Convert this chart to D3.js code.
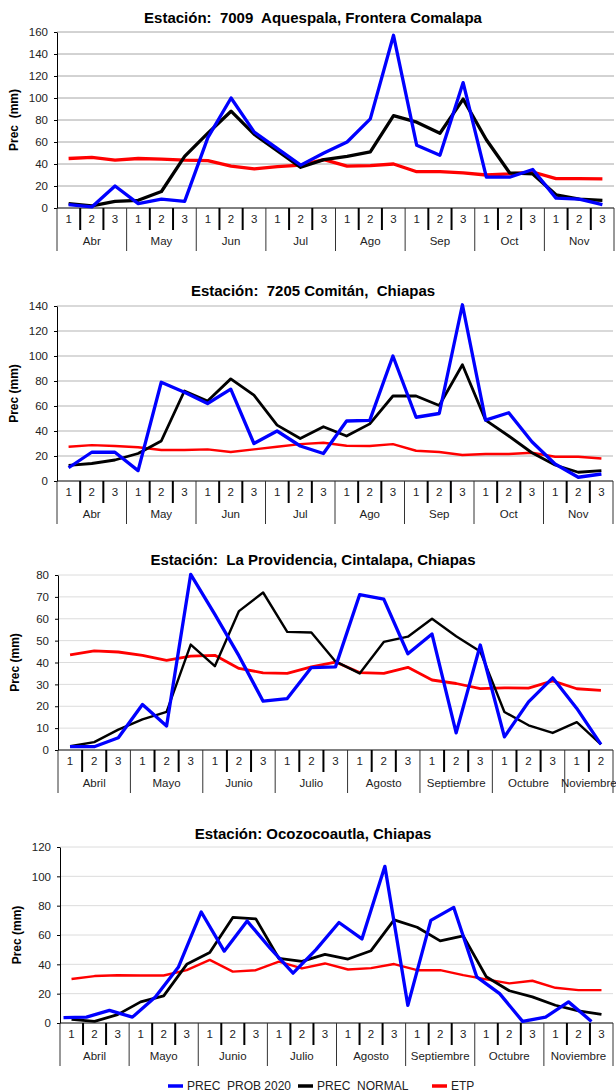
<!DOCTYPE html>
<html>
<head>
<meta charset="utf-8">
<script src="https://cdn.jsdelivr.net/npm/d3@7"></script>
<style>
  body { margin: 0; background: #fff; }
  svg { display: block; font-family: "Liberation Sans", Arial, sans-serif; }
  .title { font-weight: bold; font-size: 15px; white-space: pre; }
  .ylab { font-weight: bold; font-size: 12px; white-space: pre; }
  .tick text, .cat { font-size: 11.5px; fill: #222; }
  .legend text { font-size: 12px; fill: #222; white-space: pre; }
</style>
</head>
<body>
<svg id="chart" width="616" height="1092"></svg>
<script>
  const decades = ['1', '2', '3'];
  const monthsShort = ['Abr', 'May', 'Jun', 'Jul', 'Ago', 'Sep', 'Oct', 'Nov'];
  const monthsLong = ['Abril', 'Mayo', 'Junio', 'Julio', 'Agosto', 'Septiembre', 'Octubre', 'Noviembre'];
  const seriesNames = ['PREC  PROB 2020', 'PREC  NORMAL', 'ETP'];
  const seriesColors = ['#0000ff', '#000000', '#ff0000'];

  // 7009 Aquespala
  const aqProb = [3, 1, 20, 4, 8, 6, 64, 100, 69, 54, 39, 50, 60, 81, 157, 57, 48, 114, 28, 28, 35, 9, 8, 3];
  const aqNormal = [4, 2, 6, 7, 15, 47, 68, 88, 67, 52, 37, 44, 47, 51, 84, 78, 68, 99, 62, 32, 31, 12, 8, 7];
  const aqEtp = [45, 46, 43.5, 45, 44.5, 43.5, 43, 38, 35.5, 37.7, 39, 44, 38, 38.5, 40, 33, 33, 32, 30, 31, 32.7, 26.7, 26.7, 26.4];

  // 7205 Comitan
  const coProb = [10.6, 23, 23, 8.3, 79, 71, 62, 73.5, 30, 40, 28, 22, 48, 48.5, 100, 51, 54, 141, 48.7, 54.6, 31.4, 13.6, 3, 5.6];
  const coNormal = [12.5, 14, 16.8, 22, 32, 72, 64, 81.7, 68.7, 44.7, 34, 43.4, 36, 45.7, 68, 68, 60.4, 93, 48.7, 36, 22.6, 12.8, 7, 8.3];
  const coEtp = [27.4, 28.7, 28, 27, 24.8, 24.8, 25.3, 23.2, 25.3, 27.4, 29.5, 30.6, 28.2, 28, 29.5, 24.2, 23.2, 20.8, 21.6, 21.6, 22.6, 19.4, 19.4, 18];

  // La Providencia (hasta Nov 2)
  const prProb = [1.5, 1.5, 5.6, 20.8, 11, 80.3, 62, 43, 22.3, 23.5, 37.7, 38, 71, 69, 44, 53, 7.8, 48, 6, 22, 33, 19, 2.6];
  const prNormal = [1.7, 3.6, 9.3, 14, 17.4, 48.2, 38.3, 63.5, 72, 54, 53.7, 40.5, 35, 49.4, 51.8, 60, 52, 45, 17.4, 11.3, 7.8, 12.7, 2.6];
  const prEtp = [43.5, 45.3, 44.8, 43.3, 41, 42.9, 43.3, 37.3, 35.3, 35, 38, 40.2, 35.4, 35, 37.8, 32, 30.4, 28.1, 28.4, 28.3, 31.6, 28, 27.3];

  // Ocozocoautla
  const ocProb = [3.6, 4, 8.6, 4, 17.7, 38, 75.7, 49, 69.5, 51, 34, 50, 68.5, 57.3, 106.8, 12, 70, 78.8, 31.5, 20, 1.1, 4, 14.4, 1.1];
  const ocNormal = [2.5, 1.1, 5.7, 14.4, 18.5, 40, 48, 72, 71, 44, 42, 46.8, 43.6, 49.3, 70.3, 65.3, 56, 59.4, 31.5, 22, 17.8, 12.1, 8.2, 5.9];
  const ocEtp = [30, 32, 32.6, 32.4, 32.4, 36, 43, 35, 36, 41.8, 37.2, 40.6, 36.5, 37.4, 40.2, 36, 36, 32.6, 29.7, 27, 28.8, 24, 22.4, 22.4];

  const panels = [
    { title: 'Estación:  7009  Aquespala, Frontera Comalapa', yLabel: 'Prec  (mm)', yMax: 160, step: 20,
      months: monthsShort, n: 24, series: [aqProb, aqNormal, aqEtp], widths: [3.3, 3.3, 3.3],
      box: { left: 57, right: 614, top: 32, bottom: 208 }, titleY: 23, grid: '#a6a6a6', probShift: [0, 0] },
    { title: 'Estación:  7205 Comitán,  Chiapas', yLabel: 'Prec (mm)', yMax: 140, step: 20,
      months: monthsShort, n: 24, series: [coProb, coNormal, coEtp], widths: [3.3, 2.8, 2.4],
      box: { left: 57, right: 613, top: 306, bottom: 481 }, titleY: 296, grid: '#b3b3b3', probShift: [0, 0] },
    { title: 'Estación:  La Providencia, Cintalapa, Chiapas', yLabel: 'Prec (mm)', yMax: 80, step: 10,
      months: monthsLong, n: 23, series: [prProb, prNormal, prEtp], widths: [3.3, 2.4, 2.8],
      box: { left: 58, right: 613, top: 575, bottom: 750 }, titleY: 565, grid: '#dcdcdc', probShift: [0, 0] },
    { title: 'Estación: Ocozocoautla, Chiapas', yLabel: 'Prec (mm)', yMax: 120, step: 20,
      months: monthsLong, n: 24, series: [ocProb, ocNormal, ocEtp], widths: [3.3, 2.8, 2.4],
      box: { left: 60, right: 613, top: 847, bottom: 1023 }, titleY: 839, grid: '#dcdcdc', probShift: [-8, -10] }
  ];

  const svg = d3.select('#chart');
  svg.append('rect').attr('width', 616).attr('height', 1092).attr('fill', '#fff');

  panels.forEach(p => {
    const b = p.box;
    const g = svg.append('g');
    const cats = [];
    p.months.forEach((m, mi) => decades.forEach(d => cats.push({ id: mi + '-' + d, month: m, mi, d })));
    const used = cats.slice(0, p.n);

    const x = d3.scaleBand().domain(used.map(c => c.id)).range([b.left, b.right]);
    const xMid = id => x(id) + x.bandwidth() / 2;
    const y = d3.scaleLinear().domain([0, p.yMax]).range([b.bottom, b.top]);
    const ticks = d3.range(0, p.yMax + 1, p.step);

    // grid
    g.selectAll('line.grid').data(ticks.filter(t => t > 0)).join('line')
      .attr('x1', b.left).attr('x2', b.right)
      .attr('y1', d => y(d)).attr('y2', d => y(d))
      .attr('stroke', p.grid).attr('stroke-width', 1);

    const yAxis = g.append('g').attr('transform', `translate(${b.left},0)`)
      .call(d3.axisLeft(y).tickValues(ticks).tickSize(3).tickSizeOuter(0).tickPadding(6));
    yAxis.select('.domain').attr('stroke', '#000');
    yAxis.selectAll('.tick line').attr('stroke', '#000');
    yAxis.selectAll('.tick text').attr('font-family', null);

    g.append('line').attr('x1', b.left).attr('x2', b.right).attr('y1', y(0)).attr('y2', y(0)).attr('stroke', '#000');

    // category rows
    const rowA = b.bottom + 22, rowB = b.bottom + 43;
    g.selectAll('line.dec').data(used.filter(c => c.d !== '1')).join('line')
      .attr('x1', c => x(c.id)).attr('x2', c => x(c.id))
      .attr('y1', b.bottom).attr('y2', rowA)
      .attr('stroke', '#000').attr('stroke-width', 2);
    const monthStarts = used.filter(c => c.d === '1');
    g.selectAll('line.mon').data(monthStarts).join('line')
      .attr('x1', c => x(c.id)).attr('x2', c => x(c.id))
      .attr('y1', b.bottom).attr('y2', rowB)
      .attr('stroke', '#333').attr('stroke-width', 1);
    g.append('line').attr('x1', b.right).attr('x2', b.right).attr('y1', b.bottom).attr('y2', rowB).attr('stroke', '#333');

    g.selectAll('text.dec').data(used).join('text').attr('class', 'cat')
      .attr('x', c => xMid(c.id)).attr('y', b.bottom + 15).attr('text-anchor', 'middle').text(c => c.d);
    g.selectAll('text.mon').data(monthStarts).join('text').attr('class', 'cat')
      .attr('x', c => {
        const ids = used.filter(u => u.mi === c.mi).map(u => u.id);
        return (x(ids[0]) + x(ids[ids.length - 1]) + x.bandwidth()) / 2;
      })
      .attr('y', b.bottom + 37).attr('text-anchor', 'middle').text(c => c.month);

    // titles
    g.append('text').attr('class', 'title').attr('x', 313).attr('y', p.titleY).attr('text-anchor', 'middle').text(p.title);
    g.append('text').attr('class', 'ylab')
      .attr('transform', `translate(${b.left - 39},${(b.top + b.bottom) / 2}) rotate(-90)`)
      .attr('text-anchor', 'middle').text(p.yLabel);

    // series: prob may sit on its own slightly offset point scale
    const xProb = d3.scalePoint().domain(used.map(c => c.id))
      .range([xMid(used[0].id) + p.probShift[0], xMid(used[used.length - 1].id) + p.probShift[1]]);
    const order = [2, 1, 0];
    order.forEach(si => {
      const xs = si === 0 ? (id => xProb(id)) : xMid;
      const line = d3.line().x((v, i) => xs(used[i].id)).y(v => y(v));
      g.append('path').datum(p.series[si])
        .attr('fill', 'none').attr('stroke', seriesColors[si])
        .attr('stroke-width', p.widths[si]).attr('stroke-linejoin', 'round')
        .attr('d', line);
    });
  });

  // legend
  const leg = svg.append('g').attr('class', 'legend');
  const legX = [168, 298, 432];
  seriesNames.forEach((name, i) => {
    leg.append('line').attr('x1', legX[i]).attr('x2', legX[i] + 15).attr('y1', 1086).attr('y2', 1086)
      .attr('stroke', seriesColors[i]).attr('stroke-width', 3.5);
    leg.append('text').attr('x', legX[i] + 19).attr('y', 1090).text(name);
  });
</script>
</body>
</html>
